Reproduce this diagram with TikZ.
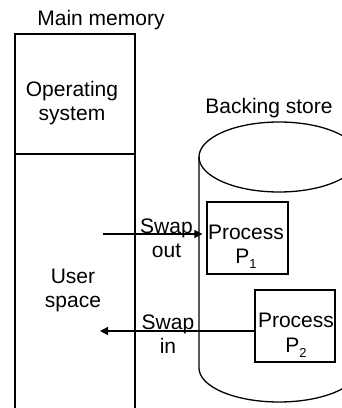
\documentclass[tikz,border=0pt]{standalone}
\usepackage{fontspec}
\setmainfont{Liberation Sans}
\usetikzlibrary{arrows.meta}
\tikzset{
  lbl/.style={font=\fontsize{21}{24.5}\selectfont, inner sep=0pt, align=center},
  ln/.style={line width=1.3pt},
  procbox/.style={draw, line width=1.3pt, minimum width=#1, minimum height=72pt, inner sep=0pt},
  arr/.style={line width=1.3pt, -{Triangle[length=8pt,width=8pt]}}
}
\newcommand{\subidx}[1]{\raisebox{-5pt}{\fontsize{13}{13}\selectfont #1}}
\begin{document}
\begin{tikzpicture}[x=1pt,y=1pt]
\useasboundingbox (0,0) rectangle (342,408);
\clip (0,0) rectangle (342,408);

% main memory column
\draw[ln] (15,-2) -- (15,374) -- (135,374) -- (135,-2);
\draw[ln] (15,254) -- (135,254);
\node[lbl, anchor=base] (mm) at (101,382) {Main memory};
% multi-line labels: the base anchor sits on the last line
\node[lbl, anchor=base] (os) at (72,287) {Operating\\system};
\node[lbl, anchor=base] (us) at (73,100) {User\\space};

% backing store cylinder
\draw[ln] (279,251) ellipse [x radius=80, y radius=35];
\draw[ln] (199,251) -- (199,40) arc[start angle=180, end angle=360, x radius=80, y radius=34] -- (359,251);
\node[lbl, anchor=base] (bs) at (269,294) {Backing store};

% processes on the backing store
\node[procbox=81pt] (p1) at (247.5,170) {};
\node[procbox=80pt] (p2) at (295,82) {};
\node[lbl, anchor=base] (p1t) at (246,144) {Process\\P\subidx{1}};
\node[lbl, anchor=base] (p2t) at (296,56) {Process\\P\subidx{2}};

% swapping
\coordinate (outstart) at (103,174);
\coordinate (inend) at (100,77);
\draw[arr, shorten >=4pt] (outstart) -- (outstart -| p1.west);
\draw[arr] (inend -| p2.west) -- (inend);
\node[lbl, anchor=base] (so) at (166.5,150) {Swap\\out};
\node[lbl, anchor=base] (si) at (168,54) {Swap\\in};
\end{tikzpicture}
\end{document}
